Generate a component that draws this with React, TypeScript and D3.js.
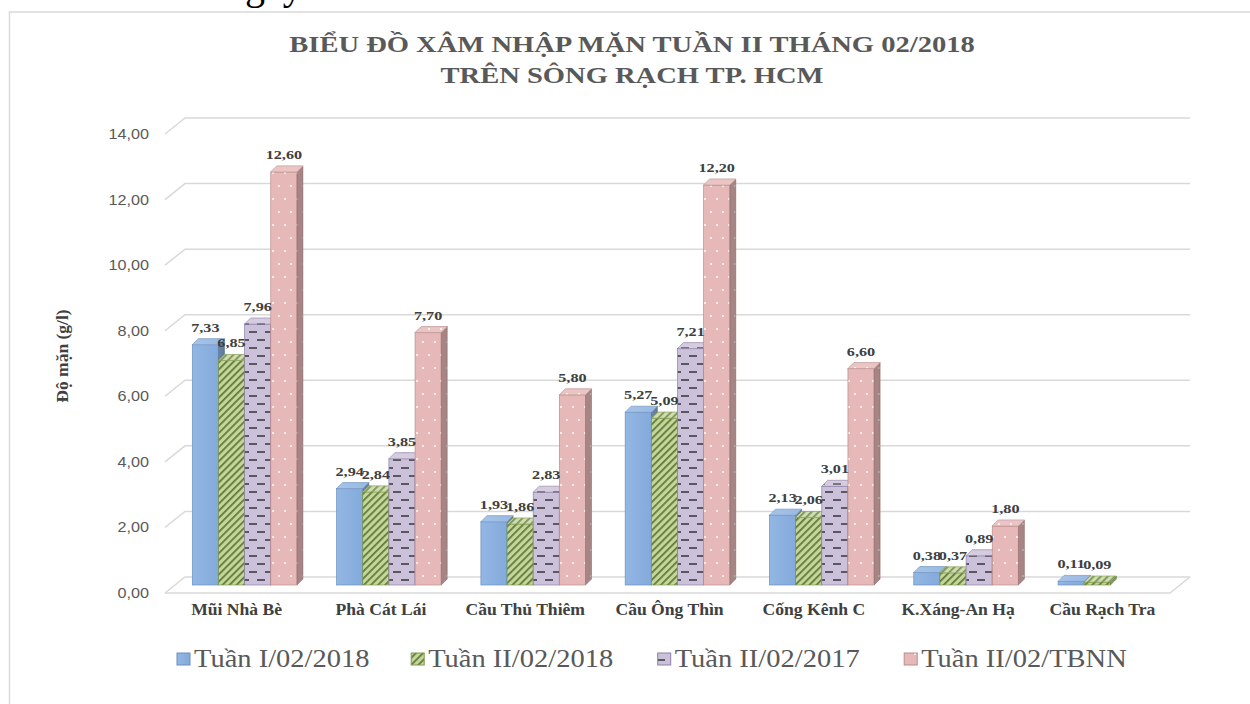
import React from 'react'
import * as d3 from 'd3'

// chart data
const categories = ['Mũi Nhà Bè', 'Phà Cát Lái', 'Cầu Thủ Thiêm', 'Cầu Ông Thìn', 'Cống Kênh C', 'K.Xáng-An Hạ', 'Cầu Rạch Tra']
const seriesNames = ['Tuần I/02/2018', 'Tuần II/02/2018', 'Tuần II/02/2017', 'Tuần II/02/TBNN']
const tuan1_2018 = [7.33, 2.94, 1.93, 5.27, 2.13, 0.38, 0.11]
const tuan2_2018 = [6.85, 2.84, 1.86, 5.09, 2.06, 0.37, 0.09]
const tuan2_2017 = [7.96, 3.85, 2.83, 7.21, 3.01, 0.89, null]
const tuan2_tbnn = [12.6, 7.7, 5.8, 12.2, 6.6, 1.8, null]
const yTicks = [0, 2, 4, 6, 8, 10, 12, 14]
const titleLines = ['BIỂU ĐỒ XÂM NHẬP MẶN TUẦN II THÁNG 02/2018', 'TRÊN SÔNG RẠCH TP. HCM']
const yTitle = 'Độ mặn (g/l)'

const seriesValues = [tuan1_2018, tuan2_2018, tuan2_2017, tuan2_tbnn]
const fills = ['url(#gBlue)', 'url(#pGreen)', 'url(#pPurple)', 'url(#pPink)']
const edges = ['#6A8FC0', '#7E9A4A', '#8E80A6', '#B98C8B']

const W = 1250
const H = 704
// pseudo 3d box: front floor edge, back wall, bars sit in the middle
const frontY = 593
const backY = 577
const midY = 585
const frontX0 = 165
const backX0 = 185
const backX1 = 1190
const frontX1 = 1170
const barDx = 6
const barDy = 6

const serif = '"Liberation Serif", "Times New Roman", serif'
const sans = '"Liberation Sans", Arial, sans-serif'
const fmt = d3.formatLocale({ decimal: ',', thousands: '.', grouping: [3], currency: ['', ''] }).format('.2f')

export default function App() {
  const yScale = d3.scaleLinear().domain([0, 14]).range([0, 459])
  const xBand = d3
    .scaleBand()
    .domain(categories)
    .range([(frontX0 + backX0) / 2, (frontX1 + backX1) / 2])
    .paddingInner(0.275)
    .paddingOuter(0.12)
  const xSeries = d3.scaleBand().domain(seriesNames).range([0, xBand.bandwidth()])
  const bw = xSeries.bandwidth()

  // legend layout from label lengths
  let lx = 177
  const legendItems = seriesNames.map((s, i) => {
    const item = { name: s, x: lx, fill: fills[i], edge: edges[i] }
    lx += s.length * 12.3 + 62
    return item
  })

  const sidePath = (x0: number, top: number, base: number) =>
    `M${x0 + bw},${top} L${x0 + bw + barDx},${top - barDy} L${x0 + bw + barDx},${base - barDy} L${x0 + bw},${base} Z`
  const topPath = (x0: number, top: number) =>
    `M${x0},${top} L${x0 + barDx},${top - barDy} L${x0 + bw + barDx},${top - barDy} L${x0 + bw},${top} Z`

  return (
    <svg width={W} height={H} style={{ position: 'absolute', left: 0, top: 0, background: '#fff' }}>
      <defs>
        <linearGradient id="gBlue" x1="0" x2="1" y1="0" y2="0">
          <stop offset="0" stopColor="#93B7E4" />
          <stop offset="1" stopColor="#84AADB" />
        </linearGradient>
        <pattern id="pGreen" patternUnits="userSpaceOnUse" width="5" height="5" patternTransform="rotate(45)">
          <rect width="5" height="5" fill="#C4D79B" />
          <rect x="0" y="0" width="1.8" height="5" fill="#55692D" opacity="0.85" />
        </pattern>
        <pattern id="pPurple" patternUnits="userSpaceOnUse" width="16" height="16">
          <rect width="16" height="16" fill="#CCC1DA" />
          <rect x="1" y="3" width="8" height="2" fill="#3F3F3F" opacity="0.8" />
          <rect x="9" y="11" width="8" height="2" fill="#3F3F3F" opacity="0.8" />
          <rect x="-7" y="11" width="8" height="2" fill="#3F3F3F" opacity="0.8" />
        </pattern>
        <pattern id="pPink" patternUnits="userSpaceOnUse" width="12" height="26">
          <rect width="12" height="26" fill="#E6B9B8" />
          <circle cx="3" cy="4" r="1" fill="#fff" />
          <circle cx="9" cy="17" r="1" fill="#fff" />
        </pattern>
      </defs>

      {/* fragment of the line above the chart, cut by the page edge */}
      <text x={225} y={-1} fontFamily={serif} fontSize={40} fill="#000">
        ngày
      </text>

      {/* chart frame */}
      <rect x={9.5} y={12} width={1300} height={800} fill="#fff" stroke="#D9D9D9" strokeWidth={1.5} />

      {/* title */}
      {titleLines.map((t, i) => (
        <text
          key={t}
          transform={`translate(632,${52 + i * 31}) scale(1.19,1)`}
          textAnchor="middle"
          fontFamily={serif}
          fontWeight="bold"
          fontSize={24}
          fill="#595959"
        >
          {t}
        </text>
      ))}

      {/* walls and gridlines */}
      {yTicks.map((v) => (
        <path
          key={'g' + v}
          d={`M${frontX0},${frontY - yScale(v)} L${backX0},${backY - yScale(v)} L${backX1},${backY - yScale(v)}`}
          fill="none"
          stroke="#D9D9D9"
          strokeWidth={1.5}
        />
      ))}
      <path
        d={`M${frontX0},${frontY} L${frontX1},${frontY} L${backX1},${backY}`}
        fill="none"
        stroke="#D9D9D9"
        strokeWidth={1.5}
      />

      {/* y tick labels */}
      {yTicks.map((v) => (
        <text
          key={'t' + v}
          transform={`translate(149,${frontY - yScale(v) + 5}) scale(1.08,1)`}
          textAnchor="end"
          fontFamily={sans}
          fontSize={15}
          fill="#595959"
        >
          {fmt(v)}
        </text>
      ))}

      <text
        transform={`translate(68,356) rotate(-90)`}
        textAnchor="middle"
        fontFamily={serif}
        fontWeight="bold"
        fontSize={17.5}
        fill="#404040"
      >
        {yTitle}
      </text>

      {/* bars, drawn left to right so neighbours hide side faces */}
      {categories.map((c, ci) => (
        <g key={c}>
          {seriesNames.map((s, si) => {
            const v = seriesValues[si][ci]
            if (v === null || v === undefined) return null
            const x0 = (xBand(c) as number) + (xSeries(s) as number)
            const top = midY - yScale(v)
            const base = midY
            return (
              <g key={s}>
                <rect x={x0} y={top} width={bw} height={base - top} fill={fills[si]} stroke={edges[si]} strokeWidth={0.7} />
                <path d={sidePath(x0, top, base)} fill={fills[si]} stroke={edges[si]} strokeWidth={0.7} />
                <path d={sidePath(x0, top, base)} fill="#000" opacity={0.28} />
                <path d={topPath(x0, top)} fill={fills[si]} stroke={edges[si]} strokeWidth={0.7} />
                <path d={topPath(x0, top)} fill="#fff" opacity={0.18} />
              </g>
            )
          })}
        </g>
      ))}

      {/* data labels on top */}
      {categories.map((c, ci) =>
        seriesNames.map((s, si) => {
          const v = seriesValues[si][ci]
          if (v === null || v === undefined) return null
          const x0 = (xBand(c) as number) + (xSeries(s) as number)
          return (
            <text
              key={c + s}
              transform={`translate(${x0 + bw / 2},${midY - yScale(v) - 13}) scale(1.2,1)`}
              textAnchor="middle"
              fontFamily={serif}
              fontWeight="bold"
              fontSize={13.5}
              fill="#404040"
            >
              {fmt(v)}
            </text>
          )
        })
      )}

      {/* category labels */}
      {categories.map((c) => (
        <text
          key={'c' + c}
          transform={`translate(${(xBand(c) as number) + xBand.bandwidth() / 2 - 8},615) scale(1.1,1)`}
          textAnchor="middle"
          fontFamily={serif}
          fontWeight="bold"
          fontSize={16}
          fill="#404040"
        >
          {c}
        </text>
      ))}

      {/* legend */}
      {legendItems.map((d) => (
        <g key={d.name}>
          <rect x={d.x} y={653} width={13} height={12} fill={d.fill} stroke={d.edge} strokeWidth={1} />
          <text
            transform={`translate(${d.x + 17},667) scale(1.14,1)`}
            fontFamily={serif}
            fontSize={25}
            fill="#595959"
          >
            {d.name}
          </text>
        </g>
      ))}
    </svg>
  )
}
